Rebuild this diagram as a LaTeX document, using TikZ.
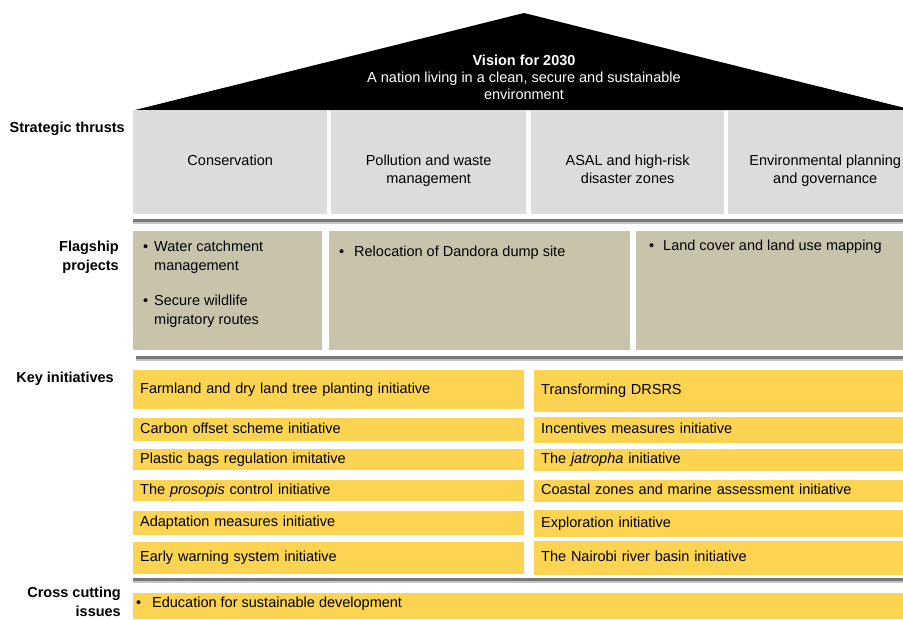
\documentclass[tikz,border=0pt]{standalone}
\usepackage{fontspec}
\setmainfont{Liberation Sans}
\usepackage{tikz}
\usetikzlibrary{positioning}
\usepackage{xcolor}
\definecolor{thrustgray}{HTML}{DCDCDC}
\definecolor{flagtan}{HTML}{C8C4AB}
\definecolor{initgold}{HTML}{FCD451}
\definecolor{bardark}{HTML}{787878}
\definecolor{barlight}{HTML}{C4C4C4}
\newcommand{\diagfont}{\fontsize{14.5}{19}\selectfont}
\newcommand{\thrustfont}{\fontsize{14.5}{18}\selectfont}
\newcommand{\roofont}{\fontsize{14.5}{17}\selectfont}
\tikzset{
  visiontxt/.style={text=white,align=center,inner sep=0pt,font=\roofont},
  side/.style={anchor=east,align=right,inner sep=0pt,font=\diagfont\bfseries},
  thrust/.style={fill=thrustgray,anchor=north west,inner sep=0pt,minimum height=104pt},
  thrusttxt/.style={align=center,inner sep=0pt,font=\thrustfont},
  flag/.style={fill=flagtan,anchor=north west,inner sep=0pt,minimum height=119pt},
  item/.style={align=left,inner sep=0pt,font=\diagfont},
  init/.style={fill=initgold,anchor=north west,inner xsep=7pt,inner ysep=0pt,align=left,
    text height=10.5pt,text depth=3pt,font=\diagfont},
  initL/.style={init,text width=377pt},
  initR/.style={init,text width=355pt},
  bar/.style={fill=bardark}
}

\begin{document}
\begin{tikzpicture}[x=1pt,y=-1pt]
  \useasboundingbox (0,0) rectangle (903,619);
  \clip (0,0) rectangle (903,619);
  % roof
  \fill[black] (135,110) -- (524,13) -- (913,110) -- cycle;
  \node[visiontxt] (vision) at (524,77) {\textbf{Vision for 2030}\\A nation living in a clean, secure and sustainable\\environment};

  % strategic thrusts
  \node[side] (lblthrust) at (125,129) {Strategic thrusts};
  \node[thrust,minimum width=194pt] (st1) at (133,110) {};
  \node[thrust,minimum width=195pt] (st2) at (331,110) {};
  \node[thrust,minimum width=193pt] (st3) at (531,110) {};
  \node[thrust,minimum width=194pt] (st4) at (728,110) {};
  \node[thrusttxt,below=45pt of st1.north] (st1t) {Conservation};
  \node[thrusttxt,below=45pt of st2.north] (st2t) {Pollution and waste\\management};
  \node[thrusttxt,below=45pt of st3.north] (st3t) {ASAL and high-risk\\disaster zones};
  \node[thrusttxt,below=45pt of st4.north] (st4t) {Environmental planning\\and governance};
  \fill[barlight] (133,222) rectangle (910,224);
  \fill[bar] (133,219) rectangle (910,222);

  % flagship projects
  \node[side] (lblflag) at (119,257) {Flagship\\projects};
  \node[flag,minimum width=189pt] (fp1) at (133,231) {};
  \node[flag,minimum width=301pt] (fp2) at (329,231) {};
  \node[flag,minimum width=275pt] (fp3) at (636,231) {};
  \node[item,below right=7pt and 10pt of fp1.north west] (fp1t)
    {\begin{tabular}{@{}p{11pt}@{}l@{}}\textbullet & Water catchment\\ & management\\[16pt]
      \textbullet & Secure wildlife\\ & migratory routes\end{tabular}};
  \node[item,below right=12pt and 10pt of fp2.north west] (fp2t)
    {\begin{tabular}{@{}p{15pt}@{}l@{}}\textbullet & Relocation of Dandora dump site\end{tabular}};
  \node[item,below right=6pt and 13pt of fp3.north west] (fp3t)
    {\begin{tabular}{@{}p{14pt}@{}l@{}}\textbullet & Land cover and land use mapping\end{tabular}};
  \fill[barlight] (136,359) rectangle (910,361);
  \fill[bar] (136,356) rectangle (910,359);

  % key initiatives
  \node[side] (lblinit) at (114,379) {Key initiatives};
  \node[initL,minimum height=39pt] (kl1) at (133,370) {Farmland and dry land tree planting initiative};
  \node[initL,minimum height=23pt] (kl2) at (133,418) {Carbon offset scheme initiative};
  \node[initL,minimum height=21pt] (kl3) at (133,449) {Plastic bags regulation imitative};
  \node[initL,minimum height=21pt] (kl4) at (133,480) {The \textit{prosopis} control initiative};
  \node[initL,minimum height=24pt] (kl5) at (133,511) {Adaptation measures initiative};
  \node[initL,minimum height=32pt] (kl6) at (133,542) {Early warning system initiative};
  \node[initR,minimum height=42pt] (kr1) at (534,370) {Transforming DRSRS};
  \node[initR,minimum height=26pt] (kr2) at (534,417) {Incentives measures initiative};
  \node[initR,minimum height=22pt] (kr3) at (534,449) {The \textit{jatropha} initiative};
  \node[initR,minimum height=22pt] (kr4) at (534,480) {Coastal zones and marine assessment initiative};
  \node[initR,minimum height=27pt] (kr5) at (534,510) {Exploration initiative};
  \node[initR,minimum height=34pt] (kr6) at (534,541) {The Nairobi river basin initiative};
  \fill[barlight] (133,581) rectangle (910,583);
  \fill[bar] (133,578) rectangle (910,581);

  % cross cutting issues
  \node[side] (lblcross) at (121,602) {Cross cutting\\issues};
  \node[fill=initgold,anchor=north west,inner sep=0pt,minimum width=777pt,minimum height=26pt] (cc) at (133,593) {};
  \node[item,anchor=west] (cct) at ([xshift=3pt,yshift=3pt]cc.west)
    {\begin{tabular}{@{}p{16pt}@{}l@{}}\textbullet & Education for sustainable development\end{tabular}};
\end{tikzpicture}
\end{document}
